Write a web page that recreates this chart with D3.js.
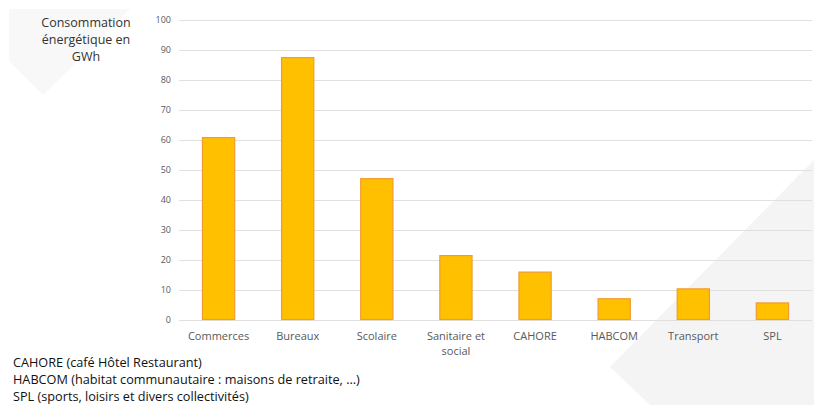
<!DOCTYPE html>
<html><head><meta charset="utf-8">
<script src="https://cdn.jsdelivr.net/npm/d3@7"></script>
<style>
html,body{margin:0;padding:0;background:#fff;}
svg{display:block;}
</style></head>
<body>
<svg id="c" width="814" height="405"></svg>
<script>
const categories = ["Commerces","Bureaux","Scolaire","Sanitaire et social","CAHORE","HABCOM","Transport","SPL"];
const values = [60.9, 87.6, 47.2, 21.5, 16.0, 7.1, 10.4, 5.7];
const yTicks = [0,10,20,30,40,50,60,70,80,90,100];
const yTitle = ["Consommation","énergétique en","GWh"];
const notes = ["CAHORE (café Hôtel Restaurant)","HABCOM (habitat communautaire : maisons de retraite, …)","SPL (sports, loisirs et divers collectivités)"];

const svg = d3.select("#c");
const font = "'Open Sans', 'Noto Sans', sans-serif";

// background decorations
svg.append("path").attr("d","M9,9 L130,9 L43,95 L9,61 Z").attr("fill","#f8f8f8");
svg.append("path").attr("d","M814,160 L610,367 L650,405 L814,405 Z").attr("fill","#f4f4f4");

const x = d3.scaleBand().domain(categories).range([179, 812]).paddingInner(0.58).paddingOuter(0.29);
const y = d3.scaleLinear().domain([0,100]).range([319.5, 20]);

// gridlines
svg.append("g").selectAll("line").data(yTicks).join("line")
  .attr("x1",179).attr("x2",812)
  .attr("y1",d=>Math.round(y(d))+0.5).attr("y2",d=>Math.round(y(d))+0.5)
  .attr("stroke","#e0e0e0").attr("stroke-width",1);

// y axis labels
const yAxis = d3.axisLeft(y).tickValues(yTicks).tickSize(0).tickPadding(8);
const gy = svg.append("g").attr("transform","translate(179,0)").call(yAxis);
gy.select(".domain").remove();
gy.selectAll("text").attr("font-family",font).attr("font-size",9).attr("fill","#595959");

// bars
svg.append("g").selectAll("rect").data(values).join("rect")
  .attr("x",(d,i)=>x(categories[i])+0.5)
  .attr("y",d=>y(d)+0.5)
  .attr("width",x.bandwidth()-1)
  .attr("height",d=>y(0)-y(d)-0.5)
  .attr("fill","#FFC000").attr("stroke","#F39A32").attr("stroke-width",1.2);

// x labels
const xAxis = d3.axisBottom(x).tickSize(0).tickPadding(0);
const gx = svg.append("g").attr("transform","translate(0,319.5)").call(xAxis);
gx.select(".domain").remove();
gx.selectAll("text").each(function(d){
  const t = d3.select(this);
  t.text(null).attr("font-family",font).attr("font-size",11).attr("fill","#595959").attr("y",0).attr("dy",0);
  const lines = d==="Sanitaire et social" ? ["Sanitaire et","social"] : [d];
  lines.forEach((l,i)=>t.append("tspan").attr("x",0).attr("y",20+i*15).text(l));
});

// y title
svg.append("text").attr("font-family",font).attr("font-size",12.5).attr("fill","#333").attr("text-anchor","middle")
  .selectAll("tspan").data(yTitle).join("tspan").attr("x",86).attr("y",(d,i)=>27+i*17).text(d=>d);

// notes
svg.append("g").selectAll("text").data(notes).join("text")
  .attr("x",13).attr("y",(d,i)=>367+i*17).attr("font-family",font).attr("font-size",12.7)
  .attr("fill","#111").text(d=>d);
</script>
</body></html>
